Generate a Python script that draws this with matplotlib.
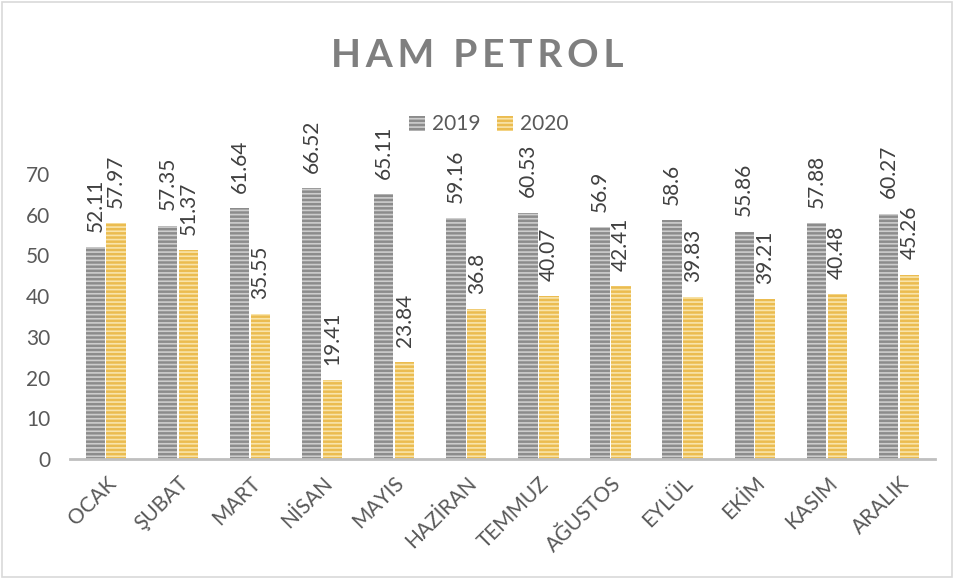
import numpy as np
import matplotlib
matplotlib.use("Agg")
import matplotlib.pyplot as plt
from matplotlib.patches import Rectangle

plt.rcParams['font.family'] = ['Lato', 'DejaVu Sans']
plt.rcParams['hatch.linewidth'] = 1.2

months = ['OCAK', 'ŞUBAT', 'MART', 'NİSAN', 'MAYIS', 'HAZİRAN',
          'TEMMUZ', 'AĞUSTOS', 'EYLÜL', 'EKİM', 'KASIM', 'ARALIK']
values_2019 = [52.11, 57.35, 61.64, 66.52, 65.11, 59.16,
               60.53, 56.9, 58.6, 55.86, 57.88, 60.27]
values_2020 = [57.97, 51.37, 35.55, 19.41, 23.84, 36.8,
               40.07, 42.41, 39.83, 39.21, 40.48, 45.26]
label_2019 = ['52.11', '57.35', '61.64', '66.52', '65.11', '59.16',
              '60.53', '56.9', '58.6', '55.86', '57.88', '60.27']
label_2020 = ['57.97', '51.37', '35.55', '19.41', '23.84', '36.8',
              '40.07', '42.41', '39.83', '39.21', '40.48', '45.26']

text_col = '#595959'
fig = plt.figure(figsize=(9.55, 5.79), dpi=100)
fig.patches.append(Rectangle((0.002, 0.003), 0.995, 0.994, transform=fig.transFigure,
                             fill=False, edgecolor='#d9d9d9', linewidth=1.2))
ax = fig.add_axes([0.073, 0.207, 0.906, 0.4925])

x = np.arange(len(months))
w = 0.27
b1 = ax.bar(x - 0.145, values_2019, w, color='#8c8c8c', edgecolor='#cdcdcd',
            linewidth=0, hatch='----', label='2019')
b2 = ax.bar(x + 0.145, values_2020, w, color='#ebbc50', edgecolor='#f9e4aa',
            linewidth=0, hatch='----', label='2020')

for xi, v, s in zip(x, values_2019, label_2019):
    ax.annotate(s, (xi - 0.145, v), xytext=(0, 11), textcoords='offset points',
                rotation=90, ha='center', va='bottom', fontsize=15,
                color='#404040', annotation_clip=False)
for xi, v, s in zip(x, values_2020, label_2020):
    ax.annotate(s, (xi + 0.145, v), xytext=(0, 11), textcoords='offset points',
                rotation=90, ha='center', va='bottom', fontsize=15,
                color='#404040', annotation_clip=False)

ax.set_xlim(-0.5, len(months) - 0.5)
ax.set_ylim(0, 70)
ax.set_yticks(range(0, 71, 10))
ax.set_xticks(x)
ax.set_xticklabels(months, rotation=45, ha='right', rotation_mode='anchor')
ax.tick_params(length=0, labelsize=15, colors=text_col)
ax.tick_params(axis='x', pad=10)
ax.tick_params(axis='y', pad=14)
for s in ['top', 'right', 'left']:
    ax.spines[s].set_visible(False)
ax.spines['bottom'].set_color('#bfbfbf')
ax.spines['bottom'].set_linewidth(2)

fig.text(0.5, 0.905, '\u200a\u200a'.join('HAM PETROL'), ha='center', va='center',
         fontsize=28, fontweight='bold', color='#7f7f7f')

fig.legend(handles=[b1, b2], loc='center', bbox_to_anchor=(0.512, 0.785), ncol=2,
           frameon=False, fontsize=15, handlelength=0.75, handleheight=0.75,
           columnspacing=0.8, handletextpad=0.35, labelcolor=text_col)

fig.savefig('out.png', dpi=100)
